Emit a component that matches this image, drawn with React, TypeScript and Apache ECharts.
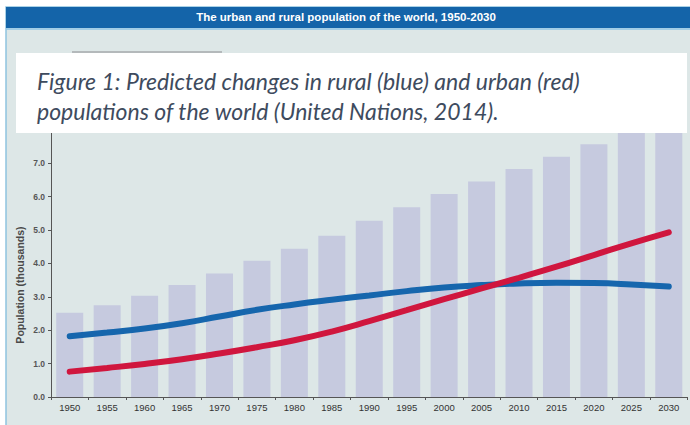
import React, { useEffect, useRef } from "react";
import * as echarts from "echarts";

const years = ["1950","1955","1960","1965","1970","1975","1980","1985","1990","1995","2000","2005","2010","2015","2020","2025","2030"];
const total = [2.52, 2.75, 3.03, 3.35, 3.70, 4.08, 4.44, 4.83, 5.28, 5.68, 6.08, 6.45, 6.83, 7.19, 7.57, 7.95, 8.3];
const rural = [1.82, 1.93, 2.05, 2.21, 2.41, 2.61, 2.77, 2.91, 3.04, 3.17, 3.28, 3.35, 3.40, 3.42, 3.41, 3.37, 3.31];
const urban = [0.76, 0.87, 0.99, 1.13, 1.30, 1.49, 1.70, 1.96, 2.27, 2.60, 2.93, 3.25, 3.57, 3.90, 4.25, 4.60, 4.93];
const title = "The urban and rural population of the world, 1950-2030";
const captionLines = [
  "Figure 1: Predicted changes in rural (blue) and urban (red)",
  "populations of the world (United Nations, 2014).",
];
const yName = "Population (thousands)";

const narrow = "'Liberation Sans Narrow', 'Liberation Sans', Arial, sans-serif";

export default function App() {
  const ref = useRef<HTMLDivElement>(null);
  useEffect(() => {
    if (!ref.current) return;
    const chart = echarts.init(ref.current, null, { renderer: "svg" });
    chart.setOption({
      animation: false,
      backgroundColor: "#ffffff",
      grid: { left: 51, right: 2.5, top: 129.8, bottom: 28 },
      xAxis: {
        type: "category",
        data: years,
        axisLine: { lineStyle: { color: "#555", width: 1 } },
        axisTick: { show: true, length: 3, lineStyle: { color: "#555" } },
        axisLabel: { color: "#333", fontSize: 9.5, fontFamily: narrow, margin: 5 },
      },
      yAxis: {
        type: "value",
        min: 0,
        max: 8,
        interval: 1,
        axisLine: { show: true, lineStyle: { color: "#555", width: 1 } },
        axisTick: { show: true, length: 3, lineStyle: { color: "#555" } },
        splitLine: { show: false },
        axisLabel: {
          color: "#555",
          fontSize: 8.5,
          fontWeight: "bold",
          fontFamily: narrow,
          margin: 6,
          showMaxLabel: false,
          formatter: (v: number) => v.toFixed(1),
        },
      },
      series: [
        {
          type: "bar",
          data: total,
          barWidth: 27,
          itemStyle: { color: "#c6cadf" },
          z: 1,
        },
        {
          type: "line",
          data: rural,
          smooth: true,
          showSymbol: false,
          lineStyle: { color: "#1666ad", width: 6, cap: "round" },
          z: 3,
        },
        {
          type: "line",
          data: urban,
          smooth: true,
          showSymbol: false,
          lineStyle: { color: "#d0163e", width: 6, cap: "round" },
          z: 4,
        },
      ],
      graphic: [
        { type: "rect", z: -10, shape: { x: 6, y: 7, width: 690, height: 425 }, style: { fill: "#dde7e7", stroke: "#8fc3e0", lineWidth: 1.5 } },
        { type: "rect", z: -9, shape: { x: 6, y: 7, width: 690, height: 21 }, style: { fill: "#1464a9" } },
        { type: "line", z: -9, shape: { x1: 6, y1: 29, x2: 690, y2: 29 }, style: { stroke: "#8ec5e6", lineWidth: 1.5 } },
        { type: "line", z: -9, shape: { x1: 72, y1: 52, x2: 222, y2: 52 }, style: { stroke: "#b4b9bb", lineWidth: 2 } },
        {
          type: "text", z: 50, x: 346, y: 17,
          style: { text: title, fill: "#ffffff", font: "bold 11.5px " + narrow, textAlign: "center", textVerticalAlign: "middle" },
        },
        {
          type: "text", z: 50, x: 20, y: 285, rotation: Math.PI / 2,
          style: { text: yName, fill: "#4a4a4a", font: "bold 10.5px " + narrow, textAlign: "center", textVerticalAlign: "middle" },
        },
        { type: "rect", z: 100, shape: { x: 16, y: 53, width: 671, height: 80 }, style: { fill: "#ffffff" } },
        {
          type: "text", z: 101, x: 37, y: 81,
          style: { text: captionLines[0], fill: "#3e4b5e", font: "italic 23px Lato, 'Open Sans', sans-serif", textAlign: "left", textVerticalAlign: "middle" },
        },
        {
          type: "text", z: 101, x: 37, y: 111,
          style: { text: captionLines[1], fill: "#3e4b5e", font: "italic 23px Lato, 'Open Sans', sans-serif", textAlign: "left", textVerticalAlign: "middle" },
        },
      ],
    });
    return () => chart.dispose();
  }, []);
  return <div ref={ref} style={{ width: 690, height: 425, position: "absolute", left: 0, top: 0 }} />;
}
